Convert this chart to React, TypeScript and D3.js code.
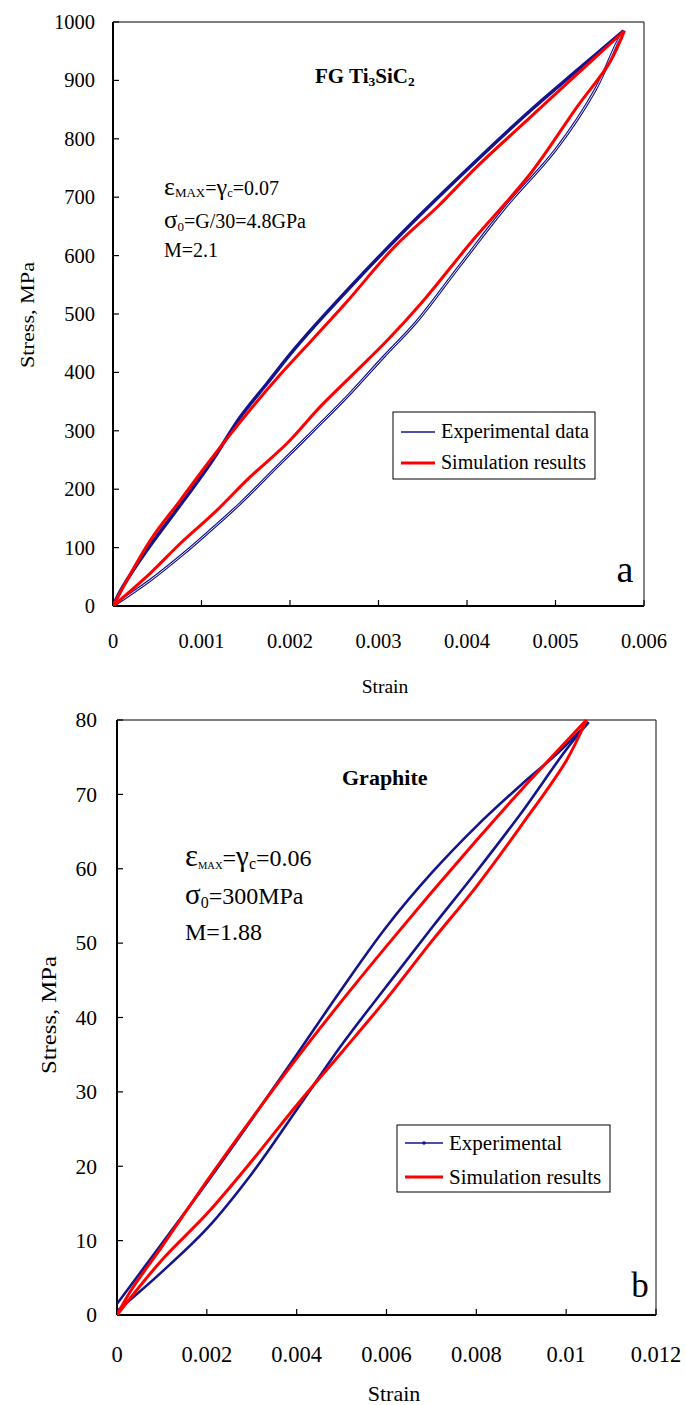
import React from "react";
import * as d3 from "d3";

// ---------- Panel a : FG Ti3SiC2 ----------
const tiXTicks = [0, 0.001, 0.002, 0.003, 0.004, 0.005, 0.006];
const tiXTickLabels = ["0", "0.001", "0.002", "0.003", "0.004", "0.005", "0.006"];
const tiYTicks = [0, 100, 200, 300, 400, 500, 600, 700, 800, 900, 1000];

const tiExpLoading: [number, number][] = [
  [0, 0], [0.0001, 30], [0.00038, 95], [0.0008, 181], [0.0011, 244], [0.00144, 324],
  [0.00174, 381], [0.00204, 438], [0.00237, 495], [0.0033, 644], [0.00415, 769],
  [0.00472, 849], [0.00525, 918], [0.00577, 985],
];
const tiExpUnloading: [number, number][] = [
  [0, 0], [0.00042, 44], [0.0008, 90], [0.00106, 124], [0.00144, 176], [0.00185, 238],
  [0.00227, 301], [0.00268, 364], [0.00306, 427], [0.00342, 485], [0.00391, 581],
  [0.00444, 684], [0.005, 781], [0.00545, 884], [0.00569, 963], [0.00577, 985],
];
const tiSimLoading: [number, number][] = [
  [0, 0], [0.00042, 112], [0.00076, 181], [0.0011, 250], [0.00155, 336], [0.0019, 398],
  [0.00227, 459], [0.00266, 524], [0.00318, 615], [0.00367, 684], [0.00411, 752],
  [0.00468, 832], [0.00521, 906], [0.00578, 985],
];
const tiSimUnloading: [number, number][] = [
  [0, 0], [0.00042, 56], [0.00076, 107], [0.00114, 159], [0.00155, 221], [0.00197, 279],
  [0.00234, 341], [0.00272, 398], [0.0031, 455], [0.00348, 518], [0.00407, 627],
  [0.00472, 741], [0.00525, 856], [0.00561, 930], [0.00578, 985],
];

// ---------- Panel b : Graphite ----------
const grXTicks = [0, 0.002, 0.004, 0.006, 0.008, 0.01, 0.012];
const grXTickLabels = ["0", "0.002", "0.004", "0.006", "0.008", "0.01", "0.012"];
const grYTicks = [0, 10, 20, 30, 40, 50, 60, 70, 80];

const grExpLoading: [number, number][] = [
  [0, 1.5], [0.001, 9.6], [0.002, 17.8], [0.003, 26.3], [0.004, 35.0], [0.005, 43.8],
  [0.006, 52.2], [0.007, 59.4], [0.008, 65.7], [0.009, 71.3], [0.0098, 75.5], [0.0105, 79.7],
];
const grExpUnloading: [number, number][] = [
  [0, 0.5], [0.001, 5.8], [0.002, 11.6], [0.003, 19.0], [0.004, 27.6], [0.005, 36.3],
  [0.006, 44.2], [0.007, 52.0], [0.008, 59.6], [0.009, 67.5], [0.01, 76.0], [0.0105, 79.7],
];
const grSimLoading: [number, number][] = [
  [0, 0], [0.0003, 3.2], [0.001, 9.2], [0.002, 18.0], [0.003, 26.4], [0.004, 34.5],
  [0.005, 42.2], [0.006, 49.6], [0.007, 56.8], [0.008, 63.8], [0.009, 70.6], [0.01045, 80.0],
];
const grSimUnloading: [number, number][] = [
  [0, 0], [0.001, 7.4], [0.002, 13.6], [0.003, 20.7], [0.004, 28.2], [0.005, 35.3],
  [0.006, 42.5], [0.007, 50.2], [0.008, 57.6], [0.009, 65.8], [0.01, 74.5], [0.01045, 80.0],
];

const RED = "#ff0000";
const BLUE = "#14148c";

type PanelProps = {
  id: string;
  xDomain: [number, number];
  yDomain: [number, number];
  xRange: [number, number];
  yRange: [number, number];
  xTicks: number[];
  xTickLabels: string[];
  yTicks: number[];
  xLabelSize: number;
  yLabelSize: number;
  xLabelBaseline: number;
  yLabelRight: number;
  expLoading: [number, number][];
  expUnloading: [number, number][];
  simLoading: [number, number][];
  simUnloading: [number, number][];
  expLoadWidth: number;
  expUnloadWidth: number;
  doubleUnload: boolean;
};

function Panel(p: PanelProps) {
  const x = d3.scaleLinear().domain(p.xDomain).range(p.xRange);
  const y = d3.scaleLinear().domain(p.yDomain).range(p.yRange);
  const line = d3
    .line<[number, number]>()
    .x((d) => x(d[0]))
    .y((d) => y(d[1]))
    .curve(d3.curveCatmullRom.alpha(0.5));
  const [x0, x1] = p.xRange;
  const [yb, yt] = p.yRange;
  const unloadD = line(p.expUnloading) || "";
  return (
    <g>
      <defs>
        <clipPath id={"clip" + p.id}>
          <rect x={x0} y={yt - 4} width={x1 - x0 + 4} height={yb - yt + 4} />
        </clipPath>
      </defs>
      <line x1={x0} y1={yt} x2={x1} y2={yt} stroke="#000" strokeWidth={1.2} />
      <line x1={x1} y1={yt} x2={x1} y2={yb} stroke="#333" strokeWidth={1.2} />
      {p.yTicks.map((t) => (
        <line key={"yt" + t} x1={x0} x2={x0 + 6} y1={y(t)} y2={y(t)} stroke="#000" strokeWidth={1.2} />
      ))}
      {p.xTicks.map((t) => (
        <line key={"xt" + t} x1={x(t)} x2={x(t)} y1={yb} y2={yb - 6} stroke="#000" strokeWidth={1.2} />
      ))}
      <line x1={x0} y1={yt} x2={x0} y2={yb} stroke="#000" strokeWidth={2} />
      <line x1={x0} y1={yb} x2={x1} y2={yb} stroke="#000" strokeWidth={2} />
      {p.yTicks.map((t) => (
        <text key={"yl" + t} x={p.yLabelRight} y={y(t) + p.yLabelSize * 0.34} fontSize={p.yLabelSize} textAnchor="end">
          {String(t)}
        </text>
      ))}
      {p.xTicks.map((t, i) => (
        <text key={"xl" + t} x={x(t)} y={p.xLabelBaseline} fontSize={p.xLabelSize} textAnchor="middle">
          {p.xTickLabels[i]}
        </text>
      ))}
      <g clipPath={"url(#clip" + p.id + ")"}>
        <path d={unloadD} fill="none" stroke={BLUE} strokeWidth={p.expUnloadWidth} />
        {p.doubleUnload && <path d={unloadD} fill="none" stroke="#fff" strokeWidth={0.9} />}
        <path d={line(p.expLoading) || ""} fill="none" stroke={BLUE} strokeWidth={p.expLoadWidth} />
        <path d={line(p.simUnloading) || ""} fill="none" stroke={RED} strokeWidth={3} />
        <path d={line(p.simLoading) || ""} fill="none" stroke={RED} strokeWidth={3} />
      </g>
    </g>
  );
}

export default function App() {
  return (
    <svg
      width={686}
      height={1405}
      viewBox="0 0 686 1405"
      style={{ position: "absolute", left: 0, top: 0, background: "#fff" }}
    >
      <style>{`text { font-family: "Liberation Serif", "Times New Roman", Times, serif; fill: #000; }`}</style>
      <rect x={0} y={0} width={686} height={1405} fill="#fff" />
      <Panel
        id="a"
        xDomain={[0, 0.006]}
        yDomain={[0, 1000]}
        xRange={[113, 644]}
        yRange={[606, 22]}
        xTicks={tiXTicks}
        xTickLabels={tiXTickLabels}
        yTicks={tiYTicks}
        xLabelSize={20.5}
        yLabelSize={20.5}
        xLabelBaseline={648}
        yLabelRight={95}
        expLoading={tiExpLoading}
        expUnloading={tiExpUnloading}
        simLoading={tiSimLoading}
        simUnloading={tiSimUnloading}
        expLoadWidth={3.5}
        expUnloadWidth={3}
        doubleUnload={true}
      />
      <text x={385} y={693} fontSize={19.5} textAnchor="middle">Strain</text>
      <text transform="translate(33.5,315) rotate(-90)" fontSize={19} textAnchor="middle" textLength={106} lengthAdjust="spacingAndGlyphs">
        Stress, MPa
      </text>
      <text x={315} y={83} fontSize={21} fontWeight="bold">
        FG Ti<tspan fontSize={13.5} dy={3}>3</tspan>
        <tspan dy={-3}>SiC</tspan>
        <tspan fontSize={13.5} dy={3}>2</tspan>
      </text>
      <text x={164} y={195} fontSize={20}>
        <tspan fontSize={26}>ε</tspan>
        <tspan fontSize={13} dy={2}>MAX</tspan>
        <tspan dy={-2}>=</tspan>
        <tspan fontSize={24}>γ</tspan>
        <tspan fontSize={12.5} dy={2}>c</tspan>
        <tspan dy={-2}>=0.07</tspan>
      </text>
      <text x={164} y={228} fontSize={20}>
        <tspan fontSize={25}>σ</tspan>
        <tspan fontSize={13} dy={3}>0</tspan>
        <tspan dy={-3}>=G/30=4.8GPa</tspan>
      </text>
      <text x={164} y={257} fontSize={20}>M=2.1</text>
      <text x={625} y={582} fontSize={38} textAnchor="middle">a</text>
      <rect x={393} y={412} width={202} height={67} fill="#fff" stroke="#000" strokeWidth={1} />
      <line x1={401} x2={435} y1={432} y2={432} stroke={BLUE} strokeWidth={1.4} />
      <line x1={401} x2={435} y1={463} y2={463} stroke={RED} strokeWidth={3} />
      <text x={441} y={438} fontSize={20.3}>Experimental data</text>
      <text x={441} y={469} fontSize={20}>Simulation results</text>

      <Panel
        id="b"
        xDomain={[0, 0.012]}
        yDomain={[0, 80]}
        xRange={[117, 656]}
        yRange={[1315, 720]}
        xTicks={grXTicks}
        xTickLabels={grXTickLabels}
        yTicks={grYTicks}
        xLabelSize={22.5}
        yLabelSize={21.5}
        xLabelBaseline={1362}
        yLabelRight={97}
        expLoading={grExpLoading}
        expUnloading={grExpUnloading}
        simLoading={grSimLoading}
        simUnloading={grSimUnloading}
        expLoadWidth={2.6}
        expUnloadWidth={2.6}
        doubleUnload={false}
      />
      <text x={394} y={1401} fontSize={22} textAnchor="middle">Strain</text>
      <text transform="translate(56,1015) rotate(-90)" fontSize={21} textAnchor="middle" textLength={118} lengthAdjust="spacingAndGlyphs">
        Stress, MPa
      </text>
      <text x={342} y={785} fontSize={22} fontWeight="bold">Graphite</text>
      <text x={185} y={866} fontSize={24}>
        <tspan fontSize={31}>ε</tspan>
        <tspan fontSize={10.5} dy={2.5}>MAX</tspan>
        <tspan dy={-2.5}>=</tspan>
        <tspan fontSize={29}>γ</tspan>
        <tspan fontSize={16} dy={3}>c</tspan>
        <tspan dy={-3}>=0.06</tspan>
      </text>
      <text x={185} y={904} fontSize={24}>
        <tspan fontSize={29}>σ</tspan>
        <tspan fontSize={16} dy={4}>0</tspan>
        <tspan dy={-4}>=300MPa</tspan>
      </text>
      <text x={185} y={940} fontSize={24}>M=1.88</text>
      <text x={640} y={1297} fontSize={35} textAnchor="middle">b</text>
      <rect x={397} y={1125} width={213} height={67} fill="#fff" stroke="#000" strokeWidth={1} />
      <line x1={405} x2={443} y1={1143} y2={1143} stroke={BLUE} strokeWidth={1.6} />
      <circle cx={424} cy={1143} r={1.8} fill={BLUE} />
      <line x1={405} x2={443} y1={1177} y2={1177} stroke={RED} strokeWidth={3} />
      <text x={449} y={1150} fontSize={21}>Experimental</text>
      <text x={449} y={1184} fontSize={21}>Simulation results</text>
    </svg>
  );
}
